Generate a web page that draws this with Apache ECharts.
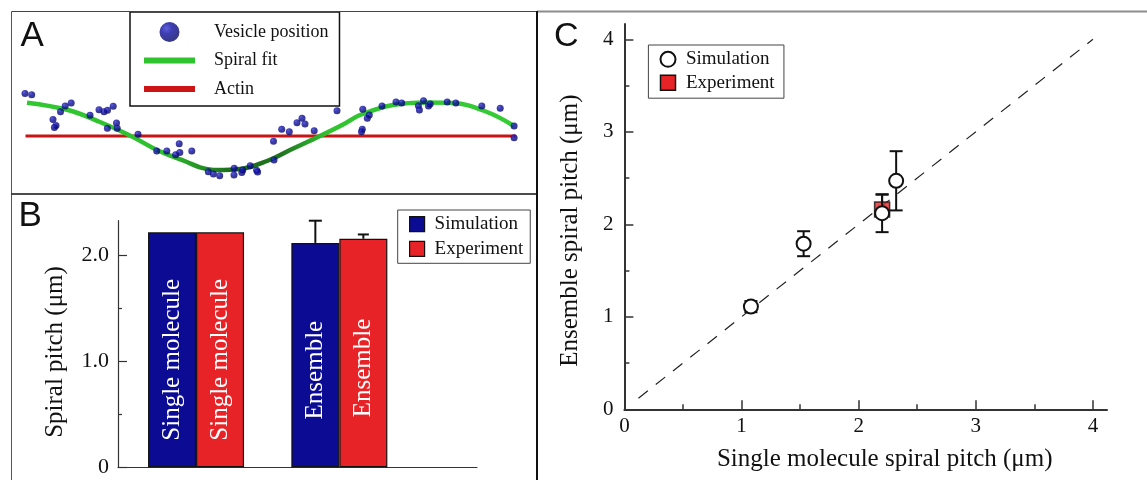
<!DOCTYPE html>
<html><head><meta charset="utf-8">
<script src="https://cdn.jsdelivr.net/npm/echarts@6/dist/echarts.min.js"></script>
<style>html,body{margin:0;padding:0;background:#fff}#c{width:1147px;height:480px}</style>
</head><body><div id="c"></div>
<script>
// ---------- Panel A : vesicle trajectory (arbitrary units along / across actin) ----------
const vesicleX = [-1, 5.7, 27, 30, 28.4, 34.5, 39.2, 45.2, 64, 73, 78, 81.5, 87.2, 90.5, 81.4, 91.2, 112, 130.7, 140.8, 149.6, 153.2, 153.8, 165.8, 182.3, 187.4, 193.7, 208, 208.2, 215.8, 216.8, 224.2, 230.6, 231.6, 248, 247.5, 255.7, 263.3, 271, 276, 279, 288.2, 311, 336.8, 341.3, 343.3, 336.3, 335.5, 356, 370, 375.7, 392.4, 393.4, 397.5, 402.5, 404.2, 421.2, 429.8, 455.8, 474.2, 488.1, 488.1];
const vesicleY = [42.5, 41.3, 16.5, 10.5, 8.5, 24.3, 30, 33, 20.7, 26.3, 24.3, 25.7, 29.7, 13, 7.7, 7.7, 1.7, -15, -15, -18.7, -7.7, -16.5, -15, -35.7, -38, -39.7, -39, -32.3, -36.5, -34, -29.8, -34.3, -36, -24, -5.3, 6.7, 4.3, 13.3, 17.7, 12, 5.3, 25.2, 26.8, 17.7, 21, 6.7, 4.3, 30, 34, 33, 30.2, 26, 35.2, 30, 32, 34, 33, 30, 27.7, 10, -1.7];
const fitX = [1, 42, 74, 105, 131, 161, 174, 191, 214, 241, 264, 294, 318, 334, 367, 401, 427, 461, 488];
const fitY = [33.3, 26, 14, 0, -14, -26, -31.3, -34, -33, -25, -14, 0, 12, 21, 31, 33.5, 33, 24, 10];
const actinX = [-0.5, 489.5];
const actinY = [0, 0];

// ---------- Panel B : spiral pitch bars ----------
const groups = ['Single molecule', 'Ensemble'];
const barSim = [2.22, 2.12];
const barExp = [2.22, 2.16];
const barSimErr = [0, 0.21];
const barExpErr = [0, 0.04];
const bTicks = [0, 1, 2];
const bMinorTicks = [0.5, 1.5];

// ---------- Panel C : ensemble vs single molecule ----------
const simX = [1.08, 1.53, 2.20, 2.32];
const simY = [1.11, 1.79, 2.12, 2.47];
const simErr = [0.06, 0.135, 0.205, 0.32];
const expX = [2.20];
const expY = [2.16];
const expErr = [0.16];
const identX = [0.12, 4];
const identY = [0.12, 4];
const cTicks = [0, 1, 2, 3, 4];
const cMinorTicks = [0.5, 1.5, 2.5, 3.5];

// ---------- styling ----------
const SERIF = 'Liberation Serif';
const SANS = 'Liberation Sans';
const BLUE = '#0b0b94';
const RED = '#e82327';
const INK = '#111';
const labelShift = [10, 15];

const zip = (a, b) => a.map((v, i) => [v, b[i]]);

function errorBars(dx, capW, upperOnly) {
  return function (params, api) {
    const x = api.value(0), y = api.value(1), e = api.value(2);
    const top = api.coord([x, y + e]);
    const bot = api.coord([x, upperOnly ? y : y - e]);
    const cx = top[0] + dx;
    const st = { stroke: INK, lineWidth: 2, fill: null };
    const ch = [
      { type: 'line', shape: { x1: cx, y1: top[1], x2: cx, y2: bot[1] }, style: st },
      { type: 'line', shape: { x1: cx - capW / 2, y1: top[1], x2: cx + capW / 2, y2: top[1] }, style: st }
    ];
    if (!upperOnly) ch.push({ type: 'line', shape: { x1: cx - capW / 2, y1: bot[1], x2: cx + capW / 2, y2: bot[1] }, style: st });
    return { type: 'group', children: ch };
  };
}

const sphere = {
  type: 'radial', x: 0.35, y: 0.32, r: 0.75,
  colorStops: [{ offset: 0, color: '#3838d4' }, { offset: 0.35, color: '#0e0ea2' }, { offset: 1, color: '#04045c' }]
};
const fitGrad = {
  type: 'linear', x: 0, y: 0, x2: 1, y2: 0,
  colorStops: [
    { offset: 0, color: '#32c832' }, { offset: 0.28, color: '#2fbf2f' },
    { offset: 0.42, color: '#1d6e1d' }, { offset: 0.52, color: '#1f751f' },
    { offset: 0.62, color: '#30c430' }, { offset: 1, color: '#36cc36' }
  ]
};

const valAxisBase = {
  type: 'value', splitLine: { show: false },
  axisLine: { show: true, onZero: false, lineStyle: { color: '#333', width: 1.5 } },
  nameMoveOverlap: false
};

const option = {
  animation: false,
  backgroundColor: '#fff',
  textStyle: { fontFamily: SERIF },
  grid: [
    { left: 0, top: 0, width: 540, height: 200 },
    { left: 118, top: 220.7, width: 359, height: 246.6 },
    { left: 124.4, top: 220.7, width: 286.6, height: 246.6 },
    { left: 624.4, top: 24, width: 482.6, height: 385.3 }
  ],
  xAxis: [
    { gridIndex: 0, type: 'value', min: -26, max: 514, show: false },
    Object.assign({}, valAxisBase, { gridIndex: 1, min: 0, max: 1, position: 'bottom',
      axisLine: { show: true, onZero: false, lineStyle: { color: '#333', width: 1.2 } },
      axisTick: { show: false }, axisLabel: { show: false } }),
    { gridIndex: 2, type: 'category', data: groups, show: false },
    Object.assign({}, valAxisBase, { gridIndex: 3, min: 0, max: 4.12, position: 'bottom',
      axisLine: { show: true, onZero: false, lineStyle: { color: '#333', width: 2 } },
      axisTick: { show: true, customValues: cTicks, inside: true, length: 9, lineStyle: { color: '#333', width: 1.5 } },
      axisLabel: { show: true, customValues: cTicks, margin: 7, fontSize: 21, fontFamily: SERIF, color: INK },
      name: 'Single molecule spiral pitch (μm)', nameLocation: 'middle', nameGap: 38,
      nameTextStyle: { fontSize: 25, fontFamily: SERIF, color: INK, padding: [0, 0, 0, 38] } }),
    Object.assign({}, valAxisBase, { gridIndex: 3, min: 0, max: 4.12, position: 'bottom',
      axisLine: { show: false },
      axisTick: { show: true, customValues: cMinorTicks, inside: true, length: 5, lineStyle: { color: '#333', width: 1.5 } },
      axisLabel: { show: false } })
  ],
  yAxis: [
    { gridIndex: 0, type: 'value', min: -64, max: 136, show: false },
    Object.assign({}, valAxisBase, { gridIndex: 1, min: 0, max: 2.33, position: 'left',
      axisLine: { show: true, onZero: false, lineStyle: { color: '#333', width: 1.2 } },
      axisTick: { show: true, customValues: bTicks, inside: true, length: 9, lineStyle: { color: '#333', width: 1.2 } },
      axisLabel: { show: true, customValues: bTicks, margin: 9, fontSize: 22, fontFamily: SERIF, color: INK,
        formatter: v => (v === 0 ? '0' : v.toFixed(1)) },
      name: 'Spiral pitch (μm)', nameLocation: 'middle', nameGap: 50,
      nameTextStyle: { fontSize: 25, fontFamily: SERIF, color: INK, padding: [0, 16, 0, 0] } }),
    Object.assign({}, valAxisBase, { gridIndex: 1, min: 0, max: 2.33, position: 'left',
      axisLine: { show: false },
      axisTick: { show: true, customValues: bMinorTicks, inside: true, length: 4, lineStyle: { color: '#333', width: 1.2 } },
      axisLabel: { show: false } }),
    { gridIndex: 2, type: 'value', min: 0, max: 2.33, show: false },
    Object.assign({}, valAxisBase, { gridIndex: 3, min: 0, max: 4.165, position: 'left',
      axisLine: { show: true, onZero: false, lineStyle: { color: '#333', width: 2 } },
      axisTick: { show: true, customValues: cTicks, inside: true, length: 9, lineStyle: { color: '#333', width: 1.5 } },
      axisLabel: { show: true, customValues: cTicks, margin: 11, fontSize: 21, fontFamily: SERIF, color: INK },
      name: 'Ensemble spiral pitch (μm)', nameLocation: 'middle', nameGap: 41,
      nameTextStyle: { fontSize: 25, fontFamily: SERIF, color: INK, padding: [0, 28, 0, 0] } }),
    Object.assign({}, valAxisBase, { gridIndex: 3, min: 0, max: 4.165, position: 'left',
      axisLine: { show: false },
      axisTick: { show: true, customValues: cMinorTicks, inside: true, length: 5, lineStyle: { color: '#333', width: 1.5 } },
      axisLabel: { show: false } })
  ],
  legend: [
    {
      orient: 'vertical', left: 130, top: 12, selectedMode: false,
      itemWidth: 51, itemHeight: 20, itemGap: 8.5, padding: [10, 11, 7, 14],
      borderColor: INK, borderWidth: 1.5, backgroundColor: '#fff',
      textStyle: { fontFamily: SERIF, fontSize: 18, color: INK, padding: [0, 0, 0, 14] },
      data: [
        { name: 'Vesicle position', icon: 'circle' },
        { name: 'Spiral fit', icon: 'path://M0,0M0,7L51,7L51,13L0,13ZM51,20', itemStyle: { color: '#2fc42f' } },
        { name: 'Actin', icon: 'path://M0,0M0,7L51,7L51,13L0,13ZM51,20', itemStyle: { color: '#cc1414' } }
      ]
    },
    {
      orient: 'vertical', left: 397.7, top: 210, selectedMode: false,
      itemWidth: 15, itemHeight: 15, itemGap: 5.6, padding: [4.7, 7, 5, 11.3],
      borderColor: '#444', borderWidth: 1, backgroundColor: '#fff',
      textStyle: { fontFamily: SERIF, fontSize: 19, color: INK, padding: [0, 0, 0, 5] },
      data: [
        { name: 'Simulation', icon: 'rect', itemStyle: { color: BLUE, borderColor: INK, borderWidth: 1.2 } },
        { name: 'Experiment', icon: 'rect', itemStyle: { color: RED, borderColor: INK, borderWidth: 1.2 } }
      ]
    },
    {
      orient: 'vertical', left: 648.4, top: 45, selectedMode: false,
      itemWidth: 15, itemHeight: 15, itemGap: 4.4, padding: [4.8, 9.3, 6, 11.1],
      borderColor: '#444', borderWidth: 1, backgroundColor: '#fff',
      textStyle: { fontFamily: SERIF, fontSize: 19, color: INK, padding: [0, 0, 0, 5.5] },
      data: [
        { name: 'Simulation', icon: 'circle', itemStyle: { color: '#fff', borderColor: INK, borderWidth: 2 } },
        { name: 'Experiment', icon: 'rect', itemStyle: { color: RED, borderColor: INK, borderWidth: 1.5 } }
      ]
    }
  ],
  graphic: [
    { type: 'line', shape: { x1: 11.5, y1: 11.5, x2: 537, y2: 11.5 }, style: { stroke: '#444', lineWidth: 1 }, z: 10 },
    { type: 'line', shape: { x1: 537, y1: 11.5, x2: 1147, y2: 11.5 }, style: { stroke: '#8c8c8c', lineWidth: 2 }, z: 10 },
    { type: 'line', shape: { x1: 11.5, y1: 11.5, x2: 11.5, y2: 480 }, style: { stroke: '#555', lineWidth: 1 }, z: 10 },
    { type: 'line', shape: { x1: 537, y1: 11, x2: 537, y2: 480 }, style: { stroke: INK, lineWidth: 2 }, z: 10 },
    { type: 'line', shape: { x1: 11.5, y1: 194, x2: 537, y2: 194 }, style: { stroke: INK, lineWidth: 1.5 }, z: 10 },
    { type: 'text', x: 20.5, y: 36, style: { text: 'A', font: '35px ' + SANS, fill: INK, textVerticalAlign: 'middle' }, z: 10 },
    { type: 'text', x: 18.5, y: 216.5, style: { text: 'B', font: '35px ' + SANS, fill: INK, textVerticalAlign: 'middle' }, z: 10 },
    { type: 'text', x: 554, y: 36.5, style: { text: 'C', font: '34px ' + SANS, fill: INK, textVerticalAlign: 'middle' }, z: 10 }
  ],
  series: [
    // Panel A
    { type: 'line', name: 'Actin', xAxisIndex: 0, yAxisIndex: 0, data: zip(actinX, actinY), symbol: 'none',
      lineStyle: { color: '#c81414', width: 3 }, z: 2, silent: true },
    { type: 'line', name: 'Spiral fit', xAxisIndex: 0, yAxisIndex: 0, data: zip(fitX, fitY), symbol: 'none', smooth: 0.4,
      lineStyle: { color: fitGrad, width: 4.5 }, z: 3, silent: true },
    { type: 'scatter', name: 'Vesicle position', xAxisIndex: 0, yAxisIndex: 0, data: zip(vesicleX, vesicleY),
      symbolSize: 7, itemStyle: { color: sphere }, z: 4, silent: true },
    // Panel B
    { type: 'bar', name: 'Simulation', xAxisIndex: 2, yAxisIndex: 3, barWidth: 48, barGap: '0%',
      data: barSim.map((v, i) => ({ value: v, label: { offset: [-labelShift[i], 0] } })),
      itemStyle: { color: BLUE, borderColor: INK, borderWidth: 1.2 },
      label: { show: true, position: 'inside', rotate: 90, formatter: p => p.name, color: '#fff', fontSize: 25, fontFamily: SERIF },
      silent: true },
    { type: 'bar', name: 'Experiment', xAxisIndex: 2, yAxisIndex: 3, barWidth: 48, barGap: '0%',
      data: barExp.map((v, i) => ({ value: v, label: { offset: [-labelShift[i], 0] } })),
      itemStyle: { color: RED, borderColor: INK, borderWidth: 1.2 },
      label: { show: true, position: 'inside', rotate: 90, formatter: p => p.name, color: '#fff', fontSize: 25, fontFamily: SERIF },
      silent: true },
    { type: 'custom', name: 'simBarErr', xAxisIndex: 2, yAxisIndex: 3, encode: { x: 0, y: 1 },
      data: barSim.map((v, i) => [i, v, barSimErr[i]]).filter(d => d[2] > 0),
      renderItem: errorBars(-24, 13, true), z: 5, silent: true },
    { type: 'custom', name: 'expBarErr', xAxisIndex: 2, yAxisIndex: 3, encode: { x: 0, y: 1 },
      data: barExp.map((v, i) => [i, v, barExpErr[i]]).filter(d => d[2] > 0),
      renderItem: errorBars(24, 11, true), z: 5, silent: true },
    // Panel C
    { type: 'line', name: 'identity', xAxisIndex: 3, yAxisIndex: 4, data: zip(identX, identY), symbol: 'none',
      lineStyle: { color: '#222', width: 1.2, type: [12, 10] }, z: 2, silent: true },
    { type: 'custom', name: 'expErr', xAxisIndex: 3, yAxisIndex: 4, encode: { x: 0, y: 1 },
      data: expX.map((x, i) => [x, expY[i], expErr[i]]), renderItem: errorBars(0, 13, true), z: 3, silent: true },
    { type: 'scatter', name: 'Experiment', xAxisIndex: 3, yAxisIndex: 4, data: zip(expX, expY),
      symbol: 'rect', symbolSize: 15, itemStyle: { color: RED, borderColor: INK, borderWidth: 1.5 }, z: 4, silent: true },
    { type: 'custom', name: 'simErr', xAxisIndex: 3, yAxisIndex: 4, encode: { x: 0, y: 1 },
      data: simX.map((x, i) => [x, simY[i], simErr[i]]), renderItem: errorBars(0, 13, false), z: 5, silent: true },
    { type: 'scatter', name: 'Simulation', xAxisIndex: 3, yAxisIndex: 4, data: zip(simX, simY),
      symbol: 'circle', symbolSize: 14, itemStyle: { color: '#fff', borderColor: INK, borderWidth: 2, opacity: 1 }, z: 6, silent: true }
  ]
};

const chart = echarts.init(document.getElementById('c'), null, { renderer: 'canvas' });
chart.setOption(option);
</script>
</body></html>
